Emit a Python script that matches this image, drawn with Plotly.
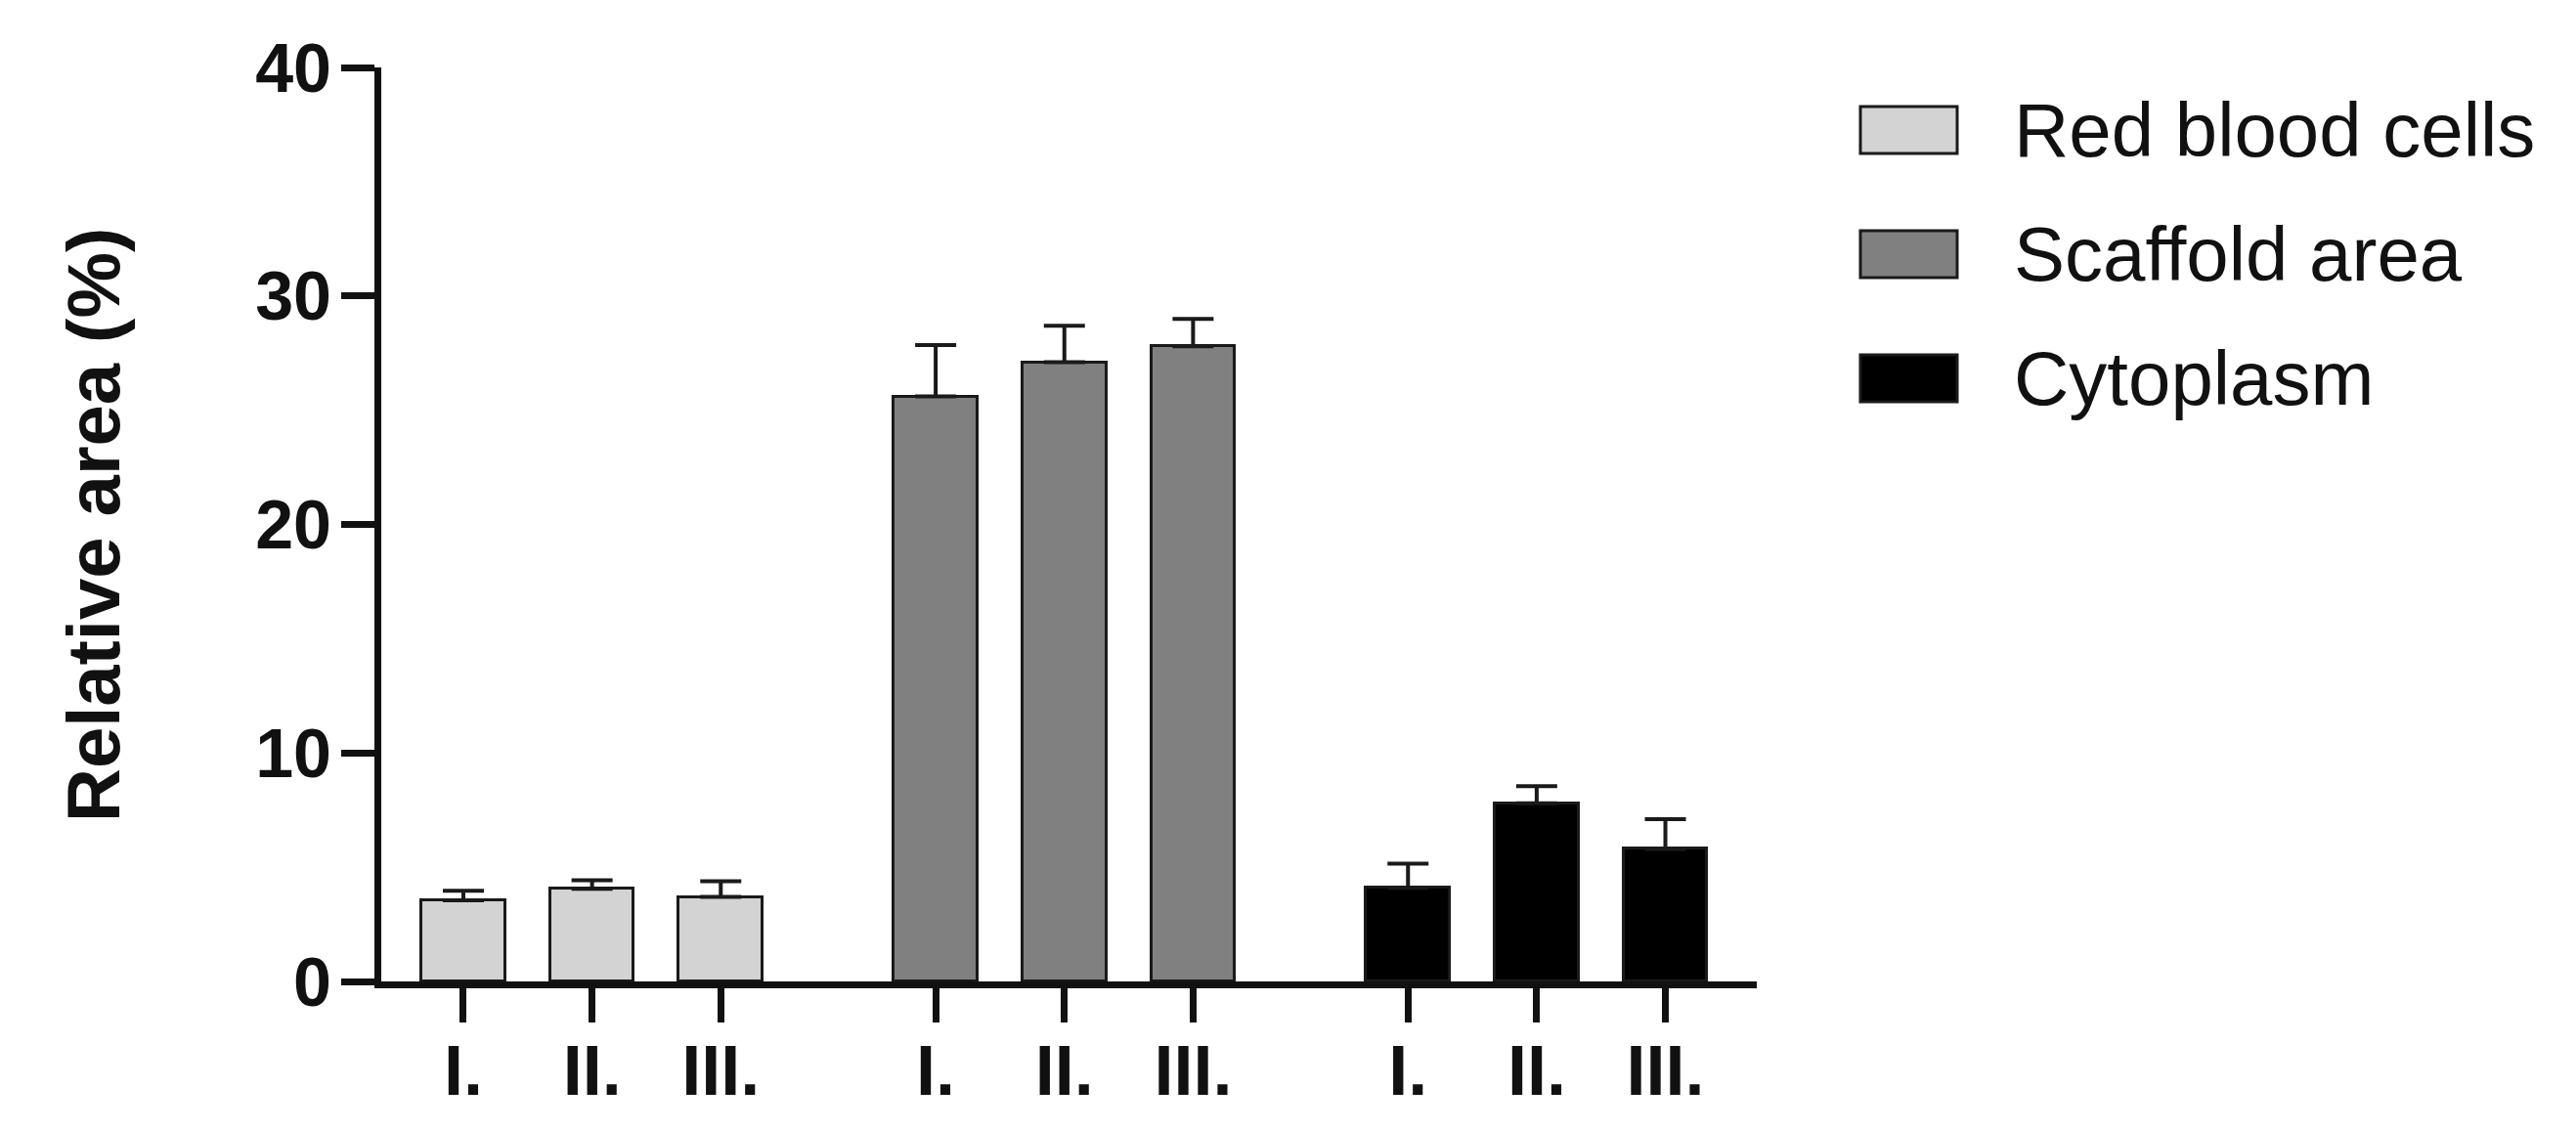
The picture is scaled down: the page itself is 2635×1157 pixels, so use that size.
import plotly.graph_objects as go

# Data
series = ["Red blood cells", "Scaffold area", "Cytoplasm"]
conditions = ["I.", "II.", "III."]
red_blood_cells = [3.55, 4.05, 3.7]
red_blood_cells_err = [0.42, 0.38, 0.68]
scaffold_area = [25.6, 27.1, 27.8]
scaffold_area_err = [2.25, 1.6, 1.2]
cytoplasm = [4.1, 7.8, 5.8]
cytoplasm_err = [1.05, 0.75, 1.3]

values = [red_blood_cells, scaffold_area, cytoplasm]
errors = [red_blood_cells_err, scaffold_area_err, cytoplasm_err]
fills = ["#d3d3d3", "#808080", "#000000"]

W, H = 2635, 1157
PAGE = 8  # default body margin of the html page
# plot area in page pixels (axis lines sit just outside it)
left, right, top, bottom = 390, 1797, 69, 1004
group_step = 3.67
FONT = "Liberation Sans"

fig = go.Figure()

tickvals, ticktext = [], []
for g, name in enumerate(series):
    xs = [g * group_step + i for i in range(len(conditions))]
    tickvals += xs
    ticktext += conditions
    fig.add_trace(go.Bar(
        x=xs,
        y=values[g],
        name=name,
        width=0.65,
        marker=dict(color=fills[g], line=dict(color="#1a1a1a", width=3)),
        error_y=dict(type="data", array=errors[g], arrayminus=[0] * len(conditions),
                     symmetric=False, thickness=4, width=21, color="#1a1a1a"),
        showlegend=False,
    ))


def px_x(p):
    return (p - left) / (right - left)


def px_y(p):
    return (bottom - p) / (bottom - top)


# Legend drawn by hand so the swatches can be large boxes
row_y = [133, 260, 387]
for name, color, yc in zip(series, fills, row_y):
    fig.add_shape(type="rect", xref="paper", yref="paper",
                  x0=px_x(1903), x1=px_x(2002), y0=px_y(yc + 24), y1=px_y(yc - 24),
                  fillcolor=color, line=dict(color="#1a1a1a", width=3))
    fig.add_annotation(xref="paper", yref="paper", x=px_x(2058), y=px_y(yc),
                       xanchor="left", yanchor="middle", showarrow=False,
                       text=name, font=dict(family=FONT, size=78, color="#111"))

# y axis title
fig.add_annotation(xref="paper", yref="paper", x=px_x(95), y=px_y(537),
                   xanchor="center", yanchor="middle", showarrow=False, textangle=-90,
                   text="Relative area (%)",
                   font=dict(family=FONT, size=76, color="#111", weight="bold"))

fig.update_layout(
    width=W,
    height=H,
    margin=dict(l=left - PAGE, r=W - right + PAGE, t=top - PAGE, b=H - bottom + PAGE,
                autoexpand=False),
    plot_bgcolor="white",
    paper_bgcolor="white",
    font=dict(family=FONT, color="#111"),
    bargap=0,
)
fig.update_xaxes(
    range=[-0.638, 10.05],
    tickvals=tickvals,
    ticktext=ticktext,
    showgrid=False, zeroline=False,
    showline=True, linecolor="#111", linewidth=7,
    ticks="outside", ticklen=35, tickwidth=7, tickcolor="#111",
    ticklabelstandoff=-12,
    tickfont=dict(family=FONT, size=72, color="#111", weight="bold"),
)
fig.update_yaxes(
    range=[0, 40],
    tickvals=[0, 10, 20, 30, 40],
    showgrid=False, zeroline=False,
    showline=True, linecolor="#111", linewidth=7,
    ticks="outside", ticklen=34, tickwidth=7, tickcolor="#111",
    ticklabelstandoff=-4,
    tickfont=dict(family=FONT, size=70, color="#111", weight="bold"),
)

fig.write_html("out.html")
